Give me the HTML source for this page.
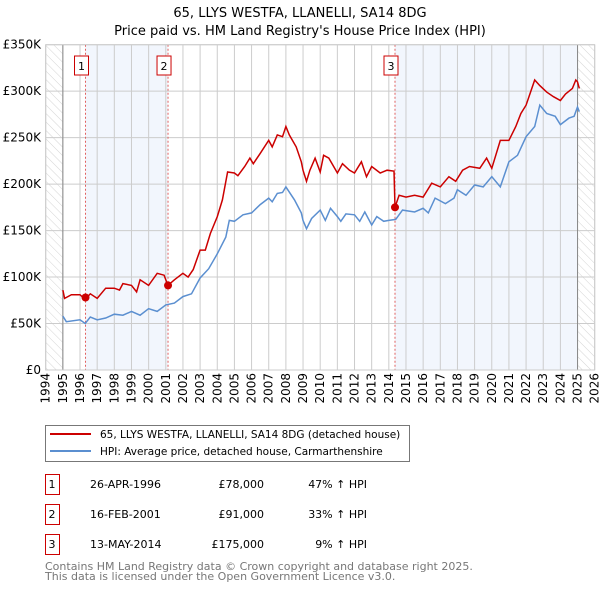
<!DOCTYPE html>
<html><head><meta charset="utf-8"><style>
body{margin:0;background:#fff;font-family:"DejaVu Sans","Liberation Sans",sans-serif;}
svg text{font-family:"DejaVu Sans","Liberation Sans",sans-serif;}
</style></head><body>
<svg id="chart" width="600" height="590" viewBox="0 0 600 590">
<defs>
<pattern id="hatch" width="6" height="6" patternUnits="userSpaceOnUse" patternTransform="rotate(-45)">
<line x1="0" y1="0" x2="0" y2="6" stroke="#d4d4d4" stroke-width="1"/>
</pattern>
</defs>
<text x="300" y="17" text-anchor="middle" font-size="13">65, LLYS WESTFA, LLANELLI, SA14 8DG</text>
<text x="300" y="35" text-anchor="middle" font-size="13">Price paid vs. HM Land Registry's House Price Index (HPI)</text>
<g id="plot"></g>
<g>
<rect x="45.5" y="425.5" width="364" height="36" fill="#fff" stroke="#777"/>
<line x1="50" y1="434" x2="91" y2="434" stroke="#cc0000" stroke-width="2"/>
<text x="100" y="438" font-size="10.5">65, LLYS WESTFA, LLANELLI, SA14 8DG (detached house)</text>
<line x1="50" y1="451" x2="91" y2="451" stroke="#5b8fd0" stroke-width="2"/>
<text x="100" y="455" font-size="10.5">HPI: Average price, detached house, Carmarthenshire</text>
</g>
<g id="table" font-size="11"></g>
<text x="45" y="570" font-size="11" fill="#777">Contains HM Land Registry data © Crown copyright and database right 2025.</text>
<text x="45" y="580" font-size="11" fill="#777">This data is licensed under the Open Government Licence v3.0.</text>
</svg>
<script>
const hpiYears=[1995,1995.2,1996,1996.3,1996.6,1997,1997.5,1998,1998.5,1999,1999.5,2000,2000.5,2001,2001.5,2002,2002.5,2003,2003.5,2004,2004.5,2004.7,2005,2005.5,2006,2006.5,2007,2007.2,2007.5,2007.8,2008,2008.5,2008.9,2009,2009.2,2009.5,2010,2010.3,2010.6,2011,2011.2,2011.5,2012,2012.3,2012.6,2013,2013.3,2013.7,2014,2014.4,2014.8,2015.5,2016,2016.3,2016.7,2017.3,2017.8,2018,2018.5,2019,2019.5,2020,2020.5,2021,2021.5,2022,2022.5,2022.8,2023.2,2023.7,2024,2024.5,2024.8,2025,2025.1];
const hpiValues=[58,52,54,50,57,54,56,60,59,63,59,66,63,70,72,79,82,99,109,125,143,161,160,167,169,178,185,181,190,191,197,183,169,161,152,163,172,161,174,165,160,168,167,160,170,156,165,160,161,162,172,170,174,169,185,179,185,194,188,199,197,208,197,224,231,251,262,285,276,273,264,271,273,283,278];
const priceYears=[1995,1995.1,1995.5,1996,1996.3,1996.6,1997,1997.5,1998,1998.3,1998.5,1999,1999.3,1999.5,2000,2000.5,2000.9,2001.12,2001.5,2002,2002.3,2002.6,2003,2003.3,2003.6,2004,2004.3,2004.6,2005,2005.2,2005.6,2005.9,2006.1,2006.5,2007,2007.2,2007.5,2007.8,2008,2008.2,2008.6,2008.9,2009,2009.2,2009.4,2009.7,2010,2010.2,2010.5,2011,2011.3,2011.7,2012,2012.4,2012.7,2013,2013.5,2013.9,2014.3,2014.36,2014.6,2015,2015.5,2016,2016.5,2017,2017.5,2017.9,2018.3,2018.7,2019.3,2019.7,2020,2020.5,2021,2021.4,2021.7,2022,2022.5,2022.8,2023.2,2023.6,2024,2024.3,2024.7,2024.9,2025,2025.1];
const priceValues=[86,77,81,81,76,82,77,88,88,86,93,91,84,97,91,104,102,91,97,104,100,108,129,129,147,165,183,213,212,209,219,228,222,233,247,240,253,251,262,253,240,224,215,203,215,228,213,231,228,212,222,215,212,224,208,219,212,215,214,175,188,186,188,186,201,197,208,203,215,219,217,228,217,247,247,262,276,285,312,306,299,294,290,297,303,312,310,303];
const saleYears=[1996.32,2001.13,2014.36];
const salePrices=[78,91,175];
const saleLabels=["1","2","3"];
const saleDates=["26-APR-1996","16-FEB-2001","13-MAY-2014"];
const salePriceText=["£78,000","£91,000","£175,000"];
const saleHpiText=["47% ↑ HPI","33% ↑ HPI","9% ↑ HPI"];
const yTicks=[0,50,100,150,200,250,300,350];
const yTickLabels=["£0","£50K","£100K","£150K","£200K","£250K","£300K","£350K"];
const xTicks=[1994,1995,1996,1997,1998,1999,2000,2001,2002,2003,2004,2005,2006,2007,2008,2009,2010,2011,2012,2013,2014,2015,2016,2017,2018,2019,2020,2021,2022,2023,2024,2025,2026];

const L=45.7,R=594.7,T=44.7,B=370;
const xS=y=>L+(y-1994)*(R-L)/32;
const yS=v=>B-v*(B-T)/350;
const NS="http://www.w3.org/2000/svg";
const plot=document.getElementById('plot');
function mk(tag,attrs,parent){const e=document.createElementNS(NS,tag);for(const k in attrs)e.setAttribute(k,attrs[k]);(parent||plot).appendChild(e);return e;}

let r=mk('rect',{x:L,y:T,width:xS(1995)-L,height:B-T,fill:'url(#hatch)'});


r=mk('rect',{x:xS(2025),y:T,width:R-xS(2025),height:B-T,fill:'url(#hatch)'});


r=mk('rect',{x:xS(saleYears[0]),y:T,width:xS(saleYears[1])-xS(saleYears[0]),height:B-T,fill:'#f2f6fd'});


r=mk('rect',{x:xS(saleYears[2]),y:T,width:xS(2025)-xS(saleYears[2]),height:B-T,fill:'#f2f6fd'});



xTicks.forEach((t,i)=>{
  const l=mk('line',{x1:xS(t),x2:xS(t),y1:T,y2:B,stroke:'#ccc','stroke-width':1});
  
  
  const x=xS(t)+4;
  const tx=mk('text',{x:x,y:373,'font-size':12,'text-anchor':'end',transform:`rotate(-90 ${x} 373)`});
  tx.textContent=String(t);
  
  
});
yTicks.forEach((t,i)=>{
  const l=mk('line',{x1:L,x2:R,y1:yS(t),y2:yS(t),stroke:'#ccc','stroke-width':1});
  
  
  const tx=mk('text',{x:41,y:yS(t)+4,'font-size':12,'text-anchor':'end'});
  tx.textContent=yTickLabels[i];
  
  
});
let a=mk('line',{x1:xS(1995),x2:xS(1995),y1:T,y2:B,stroke:'#888','stroke-width':1});


a=mk('line',{x1:xS(2025),x2:xS(2025),y1:T,y2:B,stroke:'#888','stroke-width':1});



saleYears.forEach((y,i)=>{
  const l=mk('line',{x1:xS(y),x2:xS(y),y1:T,y2:B,stroke:'#e06060','stroke-width':1,'stroke-dasharray':'2,2'});
  
  
  const bx=mk('rect',{x:xS(y)-11,y:56,width:14,height:19,fill:'#fff',stroke:'#c00','stroke-width':1});
  
  
  const tx=mk('text',{x:xS(y)-4,y:70,'font-size':11,'text-anchor':'middle'});
  tx.textContent=saleLabels[i];
  
  
});

function path(xs,vs){return xs.map((x,i)=>(i?'L':'M')+xS(x).toFixed(1)+','+yS(vs[i]).toFixed(1)).join('');}
const hp=mk('path',{d:path(hpiYears,hpiValues),fill:'none',stroke:'#5b8fd0','stroke-width':1.5});


const pp=mk('path',{d:path(priceYears,priceValues),fill:'none',stroke:'#cc0000','stroke-width':1.5});


saleYears.forEach((y,i)=>{
  const c=mk('circle',{cx:xS(y),cy:yS(salePrices[i]),r:4,fill:'#cc0000'});
  
  
});
const fr=mk('rect',{x:L,y:T,width:R-L,height:B-T,fill:'none',stroke:'#ccc'});



const tb=document.getElementById('table');
saleYears.forEach((y,i)=>{
  const cy=483+i*30;
  const b=mk('rect',{x:45.5,y:cy-8.5,width:14,height:20,fill:'#fff',stroke:'#c00'},tb);
  
  
  const t1=mk('text',{x:52,y:cy+5,'text-anchor':'middle'},tb);t1.textContent=saleLabels[i];
  
  
  const t2=mk('text',{x:90,y:cy+5},tb);t2.textContent=saleDates[i];
  
  
  const t3=mk('text',{x:264,y:cy+5,'text-anchor':'end'},tb);t3.textContent=salePriceText[i];
  
  
  const t4=mk('text',{x:367,y:cy+5,'text-anchor':'end'},tb);t4.textContent=saleHpiText[i];
  
  
});
</script>
</body></html>
